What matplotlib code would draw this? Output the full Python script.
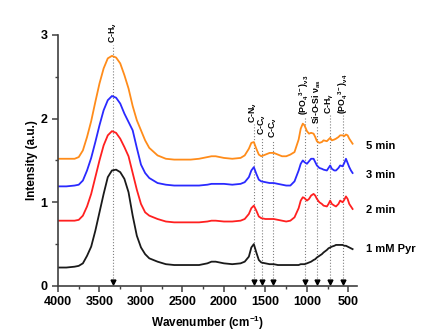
import numpy as np
import matplotlib
matplotlib.use('Agg')
import matplotlib.pyplot as plt
from matplotlib.ticker import MultipleLocator

plt.rcParams['font.family'] = ['Liberation Sans', 'DejaVu Sans']
plt.rcParams['font.weight'] = 'bold'
plt.rcParams['mathtext.fontset'] = 'custom'
plt.rcParams['mathtext.rm'] = 'Liberation Sans:bold'
plt.rcParams['mathtext.it'] = 'Liberation Sans:bold'
plt.rcParams['mathtext.bf'] = 'Liberation Sans:bold'
plt.rcParams['mathtext.default'] = 'bf'

# wavenumbers (cm-1) shared by all spectra
wn = [4000, 3900, 3800, 3750, 3700, 3650, 3600, 3550, 3500, 3450, 3400, 3350, 3300,
      3250, 3200, 3150, 3100, 3050, 3000, 2950, 2900, 2800, 2700, 2600, 2500, 2400,
      2300, 2200, 2150, 2100, 2000, 1900, 1800, 1750, 1700, 1670, 1640, 1610, 1580,
      1550, 1500, 1450, 1400, 1350, 1300, 1250, 1200, 1150, 1100, 1075, 1050, 1030,
      1000, 975, 950, 920, 900, 880, 850, 820, 800, 760, 740, 720, 700, 670, 650,
      620, 600, 570, 550, 530, 510, 490, 470, 450]

pyr = [0.22, 0.22, 0.23, 0.24, 0.27, 0.36, 0.47, 0.66, 0.88, 1.10, 1.30, 1.38, 1.39,
       1.36, 1.28, 1.12, 0.84, 0.60, 0.46, 0.38, 0.33, 0.29, 0.26, 0.25, 0.25, 0.25,
       0.25, 0.27, 0.29, 0.29, 0.27, 0.26, 0.27, 0.29, 0.35, 0.46, 0.50, 0.40, 0.31,
       0.28, 0.27, 0.26, 0.26, 0.25, 0.25, 0.25, 0.25, 0.25, 0.25, 0.26, 0.26, 0.26,
       0.27, 0.28, 0.29, 0.31, 0.32, 0.34, 0.36, 0.38, 0.40, 0.43, 0.45, 0.46, 0.47,
       0.48, 0.49, 0.49, 0.49, 0.49, 0.48, 0.48, 0.47, 0.46, 0.45, 0.44]

min2 = [0.78, 0.78, 0.78, 0.79, 0.84, 0.95, 1.10, 1.30, 1.50, 1.68, 1.80, 1.85, 1.83,
        1.76, 1.66, 1.55, 1.35, 1.15, 0.98, 0.88, 0.84, 0.80, 0.77, 0.76, 0.76, 0.76,
        0.76, 0.77, 0.78, 0.78, 0.77, 0.77, 0.78, 0.80, 0.86, 0.93, 0.96, 0.90, 0.83,
        0.81, 0.80, 0.80, 0.80, 0.79, 0.78, 0.77, 0.78, 0.82, 0.93, 1.02, 1.06, 1.05,
        1.02, 1.04, 1.08, 1.10, 1.08, 1.04, 1.00, 0.98, 0.96, 0.95, 0.98, 1.02, 0.98,
        0.96, 0.95, 0.98, 1.02, 1.00, 1.03, 1.07, 1.04, 0.98, 0.95, 0.92]

min3 = [1.19, 1.19, 1.20, 1.21, 1.26, 1.38, 1.53, 1.72, 1.92, 2.10, 2.22, 2.27, 2.25,
        2.18, 2.06, 1.96, 1.86, 1.65, 1.45, 1.35, 1.29, 1.23, 1.21, 1.20, 1.20, 1.20,
        1.20, 1.21, 1.22, 1.22, 1.22, 1.21, 1.22, 1.24, 1.30, 1.38, 1.42, 1.34, 1.27,
        1.25, 1.24, 1.23, 1.23, 1.22, 1.21, 1.20, 1.20, 1.25, 1.38, 1.46, 1.50, 1.48,
        1.46, 1.49, 1.52, 1.52, 1.48, 1.44, 1.41, 1.40, 1.39, 1.38, 1.41, 1.44, 1.40,
        1.38, 1.38, 1.41, 1.44, 1.43, 1.47, 1.52, 1.47, 1.42, 1.38, 1.35]

min5 = [1.52, 1.52, 1.52, 1.54, 1.62, 1.78, 1.97, 2.20, 2.42, 2.60, 2.72, 2.75, 2.73,
        2.66, 2.52, 2.36, 2.15, 1.98, 1.86, 1.74, 1.65, 1.56, 1.52, 1.51, 1.51, 1.51,
        1.52, 1.54, 1.55, 1.55, 1.53, 1.52, 1.53, 1.56, 1.64, 1.71, 1.72, 1.64, 1.57,
        1.55, 1.57, 1.59, 1.59, 1.57, 1.55, 1.55, 1.57, 1.60, 1.75, 1.88, 1.94, 1.92,
        1.85, 1.82, 1.83, 1.82, 1.78, 1.73, 1.71, 1.72, 1.74, 1.73, 1.75, 1.77, 1.74,
        1.75, 1.76, 1.78, 1.80, 1.80, 1.79, 1.81, 1.80, 1.76, 1.73, 1.70]

series = [pyr, min2, min3, min5]
names = ['1 mM Pyr', '2 min', '3 min', '5 min']
colors = ['#1a1a1a', '#ff2020', '#2a2aff', '#ff8c1a']
name_y = [0.44, 0.91, 1.33, 1.67]

# band assignments
band_pos = [3340, 1642, 1537, 1404, 1028, 883, 723, 567]
band_labels = ['C-H$_ν$', 'C-N$_ν$', 'C-C$_ν$', 'C-C$_ν$',
               '(PO$_4$$^{3-}$)$_{ν3}$', 'Si-O-Si ν$_{as}$', 'C-H$_γ$',
               '(PO$_4$$^{3-}$)$_{ν4}$']
band_top = [2.88, 1.93, 1.78, 1.75, 2.02, 1.92, 2.04, 2.04]

fig = plt.figure(figsize=(4.28, 3.36), dpi=100)
ax = fig.add_axes([0.1355, 0.149, 0.698, 0.747])

for b, lab, top in zip(band_pos, band_labels, band_top):
    ax.plot([b, b], [0.06, top], ls=':', lw=0.8, color='#808080', zorder=1)
    ax.plot([b], [0.05], marker='v', ms=3.5, color='black', zorder=3, clip_on=False)
    ax.text(b, top + 0.02, lab, rotation=90, ha='center', va='bottom', fontsize=6.3)

for s, n, c, ny in zip(series, names, colors, name_y):
    ax.plot(wn, s, color=c, lw=1.3, zorder=2)
    ax.text(290, ny, n, ha='left', va='center', fontsize=8, clip_on=False)

ax.set_xlim(4000, 400)
ax.set_ylim(0, 3)
ax.xaxis.set_major_locator(MultipleLocator(500))
ax.xaxis.set_minor_locator(MultipleLocator(250))
ax.yaxis.set_major_locator(MultipleLocator(1))
ax.yaxis.set_minor_locator(MultipleLocator(0.5))
ax.spines['top'].set_visible(False)
ax.spines['right'].set_visible(False)
for sp in ['left', 'bottom']:
    ax.spines[sp].set_color('#404040')
    ax.spines[sp].set_linewidth(1.2)
ax.tick_params(which='major', length=4, width=1.1, color='#404040', labelsize=9)
ax.tick_params(which='minor', length=2.5, width=1, color='#404040')
ax.set_xlabel('Wavenumber (cm$^{-1}$)', fontsize=8.5, fontweight='bold')
ax.set_ylabel('Intensity (a.u.)', fontsize=8.5, fontweight='bold', labelpad=2)

fig.savefig('out.png', dpi=100)
